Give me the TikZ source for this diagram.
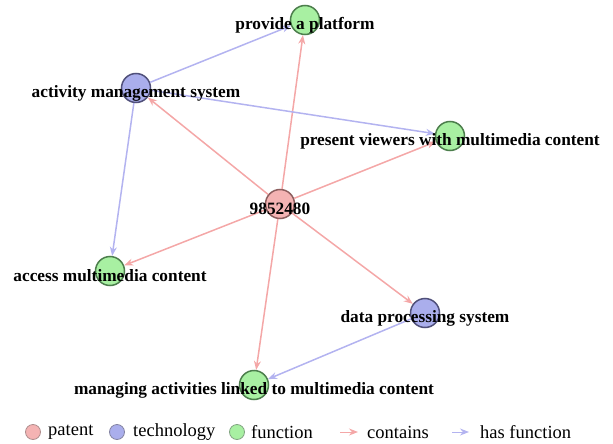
\documentclass[tikz,border=0pt]{standalone}
\usepackage{fontspec}
\setmainfont{Liberation Serif}
\usetikzlibrary{arrows.meta}

\definecolor{patfill}{HTML}{F4B3B3}
\definecolor{patline}{HTML}{8C5E5E}
\definecolor{techfill}{HTML}{AAAEEC}
\definecolor{techline}{HTML}{50507A}
\definecolor{funcfill}{HTML}{A8F0A2}
\definecolor{funcline}{HTML}{4C7E4C}
\definecolor{conline}{HTML}{F4A7A7}
\definecolor{hasline}{HTML}{B3B3F0}

\tikzset{
  vertex/.style={circle,minimum size=29pt,inner sep=0pt,line width=1.5pt},
  patent/.style={vertex,fill=patfill,draw=patline},
  tech/.style={vertex,fill=techfill,draw=techline},
  func/.style={vertex,fill=funcfill,draw=funcline},
  vlabel/.style={font=\bfseries\fontsize{17.3}{17.3}\selectfont,inner sep=0pt},
  contains/.style={draw=conline,line width=1.5pt,-{Stealth[length=9pt,width=7pt]}},
  hasfunc/.style={draw=hasline,line width=1.5pt,-{Stealth[length=9pt,width=7pt]}},
  keydot/.style={circle,minimum size=15pt,inner sep=0pt,line width=0.8pt},
  keytext/.style={anchor=west,inner sep=0pt,font=\fontsize{18.5}{18.5}\selectfont},
}

\newcommand{\namevertex}[4]{%
\node[#1] (#2) at (#3,#4) {};
}
\newcommand{\namelabel}[2]{%
\node[vlabel] (#1lab) at ([yshift=-5pt]#1) {#2};
}

\begin{document}
\begin{tikzpicture}[x=1pt,y=-1pt]
\useasboundingbox (0,0) rectangle (613,444);

% vertices
\namevertex{patent}{pat}{280}{204}
\namevertex{func}{plat}{305}{20}
\namevertex{tech}{ams}{136}{88}
\namevertex{func}{pres}{450}{136}
\namevertex{func}{acc}{110}{271}
\namevertex{tech}{dps}{425}{313}
\namevertex{func}{man}{254}{385}

% contains
\draw[contains] (pat) -- (plat);
\draw[contains] (pat) -- (ams);
\draw[contains] (pat) -- (pres);
\draw[contains] (pat) -- (acc);
\draw[contains] (pat) -- (dps);
\draw[contains] (pat) -- (man);

% has function
\draw[hasfunc] (ams) -- (plat);
\draw[hasfunc] (ams) -- (pres);
\draw[hasfunc] (ams) -- (acc);
\draw[hasfunc] (dps) -- (man);

% labels
\namelabel{pat}{9852480}
\namelabel{plat}{provide a platform}
\namelabel{ams}{activity management system}
\namelabel{pres}{present viewers with multimedia content}
\namelabel{acc}{access multimedia content}
\namelabel{dps}{data processing system}
\namelabel{man}{managing activities linked to multimedia content}

% legend
\node[keydot,fill=patfill,draw=patline!70] (kpat) at (33,432) {};
\node[keytext] (kpatlab) at (48,432) {patent};
\node[keydot,fill=techfill,draw=techline!70] (ktech) at (117,432) {};
\node[keytext] (ktechlab) at (133,432) {technology};
\node[keydot,fill=funcfill,draw=funcline!70] (kfunc) at (237,432) {};
\node[keytext] (kfunclab) at (251,432) {function};
\coordinate (kcona) at (340,432);
\coordinate (kconb) at (358,432);
\draw[contains,line width=1pt] (kcona) -- (kconb);
\node[keytext] (kconlab) at (367,432) {contains};
\coordinate (khasa) at (452,432);
\coordinate (khasb) at (469,432);
\draw[hasfunc,line width=1pt] (khasa) -- (khasb);
\node[keytext] (khaslab) at (480,432) {has function};
\end{tikzpicture}
\end{document}
